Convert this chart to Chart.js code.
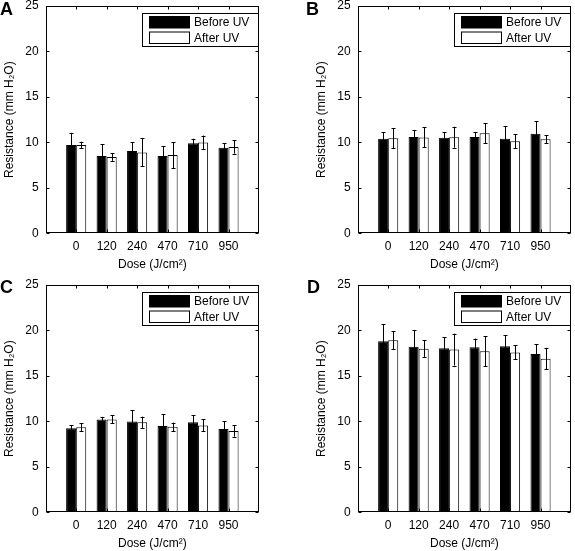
<!DOCTYPE html>
<html>
<head>
<meta charset="utf-8">
<script src="https://cdn.jsdelivr.net/npm/chart.js@4"></script>
<style>
    body { margin: 0; background: #fff; overflow: hidden; }
    .panel { position: absolute; }
    .tag { position: absolute; font: bold 18px "Liberation Sans", Arial, sans-serif; line-height: 1; color: #000; }
</style>
</head>
<body>
<canvas class="panel" id="chartA" width="262" height="272" style="left:0;top:0"></canvas>
<canvas class="panel" id="chartB" width="262" height="272" style="left:312px;top:0"></canvas>
<canvas class="panel" id="chartC" width="262" height="272" style="left:0;top:279px"></canvas>
<canvas class="panel" id="chartD" width="262" height="272" style="left:312px;top:279px"></canvas>
<div class="tag" style="left:0;top:-0.5px">A</div>
<div class="tag" style="left:306px;top:-0.5px">B</div>
<div class="tag" style="left:0;top:278px">C</div>
<div class="tag" style="left:307px;top:278px">D</div>
<script>
// Dose categories (x axis)
const doses = ['0', '120', '240', '470', '710', '950'];
const yTicks = [0, 5, 10, 15, 20, 25];
const seriesNames = ['Before UV', 'After UV'];

// Panel A
const aBefore = [9.7, 8.5, 9.05, 8.5, 9.9, 9.4];
const aBeforeErr = [1.35, 1.3, 0.95, 1.05, 0.5, 0.5];
const aAfter = [9.7, 8.4, 8.9, 8.6, 10.0, 9.5];
const aAfterErr = [0.37, 0.43, 1.54, 1.43, 0.75, 0.74];

// Panel B
const bBefore = [10.4, 10.6, 10.5, 10.6, 10.4, 10.95];
const bBeforeErr = [0.73, 0.74, 0.62, 0.52, 1.39, 1.36];
const bAfter = [10.45, 10.55, 10.57, 11.0, 10.12, 10.35];
const bAfterErr = [1.1, 1.1, 1.15, 1.08, 0.77, 0.42];

// Panel C
const cBefore = [9.25, 10.2, 10.0, 9.5, 9.9, 9.15];
const cBeforeErr = [0.33, 0.29, 1.21, 1.29, 0.77, 0.85];
const cAfter = [9.35, 10.22, 9.9, 9.4, 9.56, 8.95];
const cAfterErr = [0.44, 0.44, 0.62, 0.46, 0.66, 0.63];

// Panel D
const dBefore = [18.8, 18.2, 18.05, 18.15, 18.25, 17.4];
const dBeforeErr = [1.87, 1.8, 1.18, 0.96, 1.21, 1.06];
const dAfter = [18.93, 18.0, 17.9, 17.7, 17.58, 16.9];
const dAfterErr = [0.99, 0.9, 1.76, 1.65, 0.77, 1.19];

const FONT = '"Liberation Sans", Arial, "DejaVu Sans", sans-serif';
Chart.defaults.color = '#000';
Chart.defaults.font.family = FONT;
Chart.defaults.font.size = 12;

// MATLAB style axes run from 0 to 7, so pad the categories with an empty slot each side
const pad = arr => [null, ...arr, null];

// Draws error bars, the box with inward ticks and the legend inside the plot
const matlabDecor = {
    id: 'matlabDecor',
    afterDatasetsDraw(chart) {
        const ctx = chart.ctx;
        const area = chart.chartArea;
        const xs = chart.scales.x;
        const ys = chart.scales.y;
        ctx.save();
        ctx.strokeStyle = '#000';
        ctx.lineWidth = 1;

        // error bars
        chart.data.datasets.forEach((ds, i) => {
            const meta = chart.getDatasetMeta(i);
            ds.errors.forEach((e, j) => {
                const v = ds.data[j];
                if (v == null || e == null) return;
                const x = Math.round(meta.data[j].x) + 0.5;
                const top = ys.getPixelForValue(v + e);
                const bot = ys.getPixelForValue(v - e);
                ctx.beginPath();
                ctx.moveTo(x, top); ctx.lineTo(x, bot);
                ctx.moveTo(x - 2, Math.round(top) + 0.5); ctx.lineTo(x + 2, Math.round(top) + 0.5);
                ctx.moveTo(x - 2, Math.round(bot) + 0.5); ctx.lineTo(x + 2, Math.round(bot) + 0.5);
                ctx.stroke();
            });
        });

        // box
        const L = Math.round(area.left) + 0.5, R = Math.round(area.right) - 0.5;
        const T = Math.round(area.top) + 0.5, B = Math.round(area.bottom) - 0.5;
        ctx.strokeRect(L, T, R - L, B - T);

        // inward ticks
        const tl = 3;
        ctx.beginPath();
        ys.ticks.forEach((t, k) => {
            const y = Math.round(ys.getPixelForTick(k)) + 0.5;
            ctx.moveTo(L, y); ctx.lineTo(L + tl, y);
            ctx.moveTo(R, y); ctx.lineTo(R - tl, y);
        });
        xs.ticks.forEach((t, k) => {
            if (!chart.data.labels[k]) return;
            const x = Math.round(xs.getPixelForTick(k)) + 0.5;
            ctx.moveTo(x, T); ctx.lineTo(x, T + tl);
            ctx.moveTo(x, B); ctx.lineTo(x, B - tl);
        });
        ctx.stroke();

        // legend
        const w = 116, h = 33;
        const lx = Math.round(area.right) - 1 - w + 0.5;
        const ly = Math.round(area.top + 6.7) + 0.5;
        ctx.fillStyle = '#fff';
        ctx.fillRect(lx, ly, w, h);
        ctx.strokeRect(lx, ly, w, h);
        ctx.font = '12px ' + FONT;
        ctx.textBaseline = 'middle';
        chart.data.datasets.forEach((ds, i) => {
            const sy = ly + 3 + i * 15.5;
            ctx.fillStyle = ds.backgroundColor;
            ctx.fillRect(lx + 7, sy, 40, 11.5);
            ctx.strokeRect(lx + 7, sy, 40, 11.5);
            ctx.fillStyle = '#000';
            ctx.fillText(ds.label, lx + 51.5, sy + 6.5);
        });
        ctx.restore();
    }
};

function makePanel(id, before, beforeErr, after, afterErr) {
    const ctx = document.getElementById(id).getContext('2d');
    return new Chart(ctx, {
        type: 'bar',
        data: {
            labels: ['', ...doses, ''],
            datasets: [{
                label: seriesNames[0],
                data: pad(before),
                errors: pad(beforeErr),
                backgroundColor: '#000',
                borderColor: '#000',
                borderWidth: 1
            }, {
                label: seriesNames[1],
                data: pad(after),
                errors: pad(afterErr),
                backgroundColor: '#fff',
                borderColor: '#000',
                borderWidth: 1
            }]
        },
        options: {
            animation: false,
            responsive: false,
            devicePixelRatio: 1,
            categoryPercentage: 0.66,
            barPercentage: 1,
            layout: { padding: { top: 6, right: 3, left: 0, bottom: 0 } },
            plugins: { legend: { display: false }, tooltip: { enabled: false } },
            scales: {
                x: {
                    offset: false,
                    grid: { display: false, drawTicks: false },
                    border: { display: false },
                    ticks: { padding: 6, maxRotation: 0, autoSkip: false },
                    title: { display: true, text: 'Dose (J/cm²)', padding: { top: 0, bottom: 0 } },
                    afterFit: s => { s.height = 38.7; s.paddingLeft = 0; s.paddingRight = 0; }
                },
                y: {
                    min: 0,
                    max: 25,
                    afterBuildTicks: s => { s.ticks = yTicks.map(v => ({ value: v })); },
                    grid: { display: false, drawTicks: false },
                    border: { display: false },
                    ticks: { padding: 7 },
                    title: { display: true, text: 'Resistance (mm H₂O)', padding: { top: 2, bottom: 0 } },
                    afterFit: s => { s.width = 45.7; s.paddingTop = 0; s.paddingBottom = 0; }
                }
            }
        },
        plugins: [matlabDecor]
    });
}

makePanel('chartA', aBefore, aBeforeErr, aAfter, aAfterErr);
makePanel('chartB', bBefore, bBeforeErr, bAfter, bAfterErr);
makePanel('chartC', cBefore, cBeforeErr, cAfter, cAfterErr);
makePanel('chartD', dBefore, dBeforeErr, dAfter, dAfterErr);
</script>
</body>
</html>
